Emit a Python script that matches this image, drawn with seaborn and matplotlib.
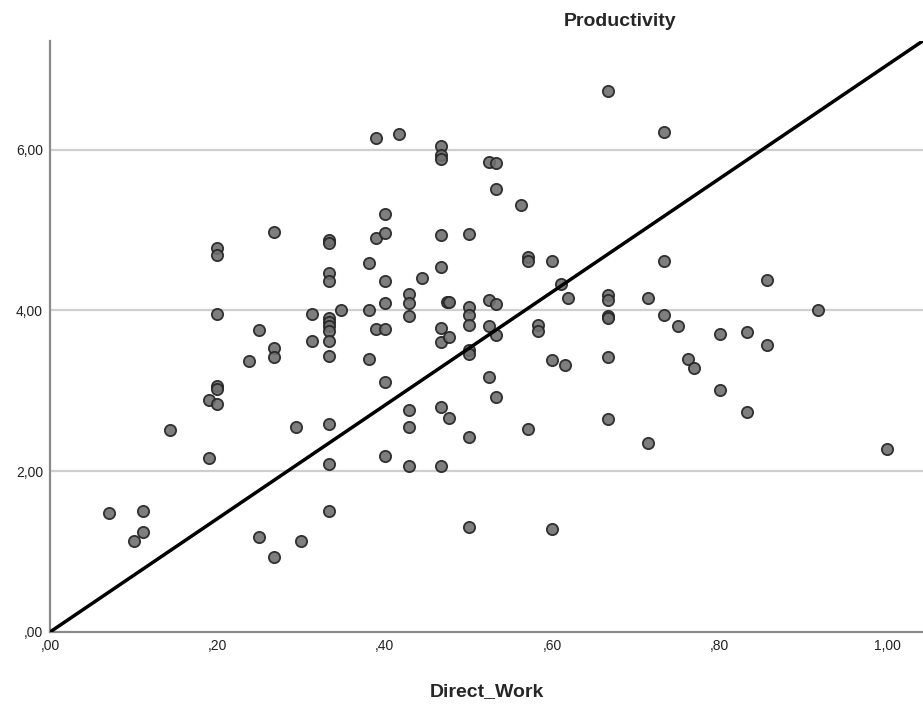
import matplotlib
matplotlib.use("Agg")
import matplotlib.pyplot as plt
import matplotlib.ticker as mticker
import seaborn as sns
import pandas as pd

# Direct_Work / Productivity pairs
direct_work = [
    0.071, 0.111, 0.111, 0.100, 0.143, 0.190, 0.190, 0.200, 0.200, 0.200,
    0.200, 0.200, 0.200, 0.238, 0.250, 0.250, 0.267, 0.267, 0.267, 0.267,
    0.294, 0.300, 0.313, 0.313, 0.333, 0.333, 0.333, 0.333, 0.333, 0.333,
    0.333, 0.333, 0.333, 0.333, 0.333, 0.333, 0.333, 0.348, 0.381, 0.381,
    0.381, 0.389, 0.389, 0.389, 0.400, 0.400, 0.400, 0.400, 0.400, 0.400,
    0.400, 0.417, 0.429, 0.429, 0.429, 0.429, 0.429, 0.429, 0.444, 0.467,
    0.467, 0.467, 0.467, 0.467, 0.467, 0.467, 0.467, 0.467, 0.474, 0.477,
    0.477, 0.477, 0.500, 0.500, 0.500, 0.500, 0.500, 0.500, 0.500, 0.500,
    0.524, 0.524, 0.524, 0.524, 0.533, 0.533, 0.533, 0.533, 0.533, 0.563,
    0.571, 0.571, 0.571, 0.583, 0.583, 0.600, 0.600, 0.600, 0.611, 0.615,
    0.619, 0.667, 0.667, 0.667, 0.667, 0.667, 0.667, 0.667, 0.714, 0.714,
    0.733, 0.733, 0.733, 0.750, 0.762, 0.769, 0.800, 0.800, 0.833, 0.833,
    0.857, 0.857, 0.917, 1.000,
]
productivity = [
    1.48, 1.50, 1.24, 1.13, 2.51, 2.16, 2.89, 3.06, 3.02, 2.84,
    3.96, 4.77, 4.69, 3.37, 3.76, 1.18, 4.97, 3.53, 3.42, 0.93,
    2.55, 1.13, 3.95, 3.62, 4.88, 4.84, 4.47, 4.37, 3.91, 3.86,
    3.81, 3.74, 3.62, 3.43, 2.59, 2.09, 1.50, 4.00, 4.59, 4.01,
    3.39, 6.14, 4.90, 3.77, 5.20, 4.96, 4.37, 4.09, 3.77, 3.11,
    2.19, 6.20, 4.21, 4.09, 3.93, 2.76, 2.55, 2.06, 4.40, 6.04,
    5.93, 5.88, 4.94, 4.54, 3.78, 3.61, 2.80, 2.07, 4.10, 4.11,
    3.67, 2.66, 4.95, 4.04, 3.94, 3.82, 3.51, 3.46, 2.42, 1.30,
    5.84, 4.13, 3.81, 3.17, 5.83, 5.51, 4.08, 3.69, 2.92, 5.31,
    4.66, 4.62, 2.53, 3.82, 3.74, 4.61, 3.38, 1.28, 4.33, 3.32,
    4.16, 6.73, 4.19, 4.13, 3.93, 3.91, 3.42, 2.65, 4.16, 2.35,
    6.22, 4.61, 3.94, 3.81, 3.40, 3.28, 3.71, 3.01, 3.73, 2.74,
    4.38, 3.57, 4.01, 2.28,
]
line_slope = 7.05
x_ticks = [0.0, 0.2, 0.4, 0.6, 0.8, 1.0]
y_ticks = [0.0, 2.0, 4.0, 6.0]

df = pd.DataFrame({"Direct_Work": direct_work, "Productivity": productivity})

sns.set_style("white")
plt.rcParams['font.family'] = ['Liberation Sans', 'DejaVu Sans']

fig = plt.figure(figsize=(9.23, 7.07), dpi=100)
ax = fig.add_axes([0.0542, 0.1061, 0.9458, 0.8363])

for y in y_ticks[1:]:
    ax.axhline(y, color='#cfcfcf', lw=1.6, zorder=0)

sns.scatterplot(data=df, x="Direct_Work", y="Productivity", ax=ax,
                s=66, color='#707070', edgecolor='#222222', linewidth=1.3,
                alpha=0.9, zorder=3)

ax.axline((0, 0), slope=line_slope, color='black', lw=2.5, zorder=4)

ax.set_xlim(0, 1.043)
ax.set_ylim(0, 7.354)
ax.set_xticks(x_ticks)
ax.set_yticks(y_ticks)

def spss_fmt(v, pos):
    s = f"{v:.2f}".replace('.', ',')
    return s[1:] if s.startswith('0') else s

ax.xaxis.set_major_formatter(mticker.FuncFormatter(spss_fmt))
ax.yaxis.set_major_formatter(mticker.FuncFormatter(spss_fmt))
ax.tick_params(length=0, labelsize=10, colors='#222222')
ax.tick_params(axis='x', pad=5)
ax.tick_params(axis='y', pad=5)

for side in ['top', 'right']:
    ax.spines[side].set_visible(False)
for side in ['left', 'bottom']:
    ax.spines[side].set_color('#8a8a8a')
    ax.spines[side].set_linewidth(1.6)

ax.set_ylabel("")
ax.set_xlabel("Direct_Work", fontsize=14, fontweight='bold', labelpad=22)
fig.text(0.672, 0.969, "Productivity", fontsize=14, fontweight='bold',
         ha='center', va='center')

fig.savefig("out.png", dpi=100)
